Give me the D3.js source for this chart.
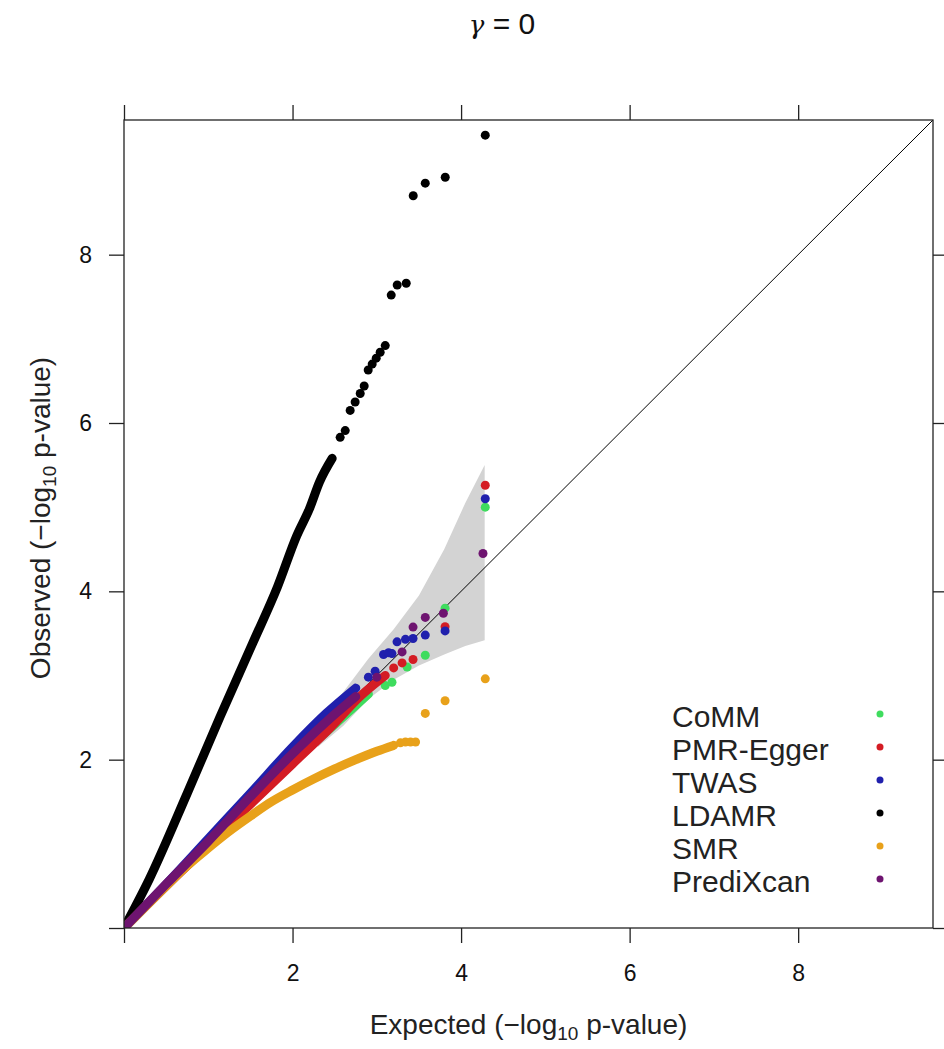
<!DOCTYPE html>
<html>
<head>
<meta charset="utf-8">
<script src="https://cdn.jsdelivr.net/npm/d3@7"></script>
<style>
	body { margin: 0; background: #fff; }
	svg { font-family: 'Liberation Sans', Arial, sans-serif; }
</style>
</head>
<body>
<svg id="chart" width="944" height="1049"></svg>
<script>
// legend / series order
const methods = ['CoMM', 'PMR-Egger', 'TWAS', 'LDAMR', 'SMR', 'PrediXcan'];
const methodColours = ['#3fdc5e', '#d41c24', '#2020ad', '#000000', '#e8a11a', '#6e1470'];

const tickValues = [0, 2, 4, 6, 8];

// dense part of each curve [expected, observed]
const denseCoMM = [[0, 0], [0.5, 0.5], [1, 1], [1.5, 1.48], [2, 1.97], [2.5, 2.42], [2.9, 2.78]];
const densePMR = [[0, 0], [0.5, 0.5], [1, 0.98], [1.5, 1.47], [2, 1.95], [2.45, 2.38], [2.8, 2.75], [3.1, 3.0]];
const denseTWAS = [[0, 0], [0.5, 0.52], [1, 1.06], [1.5, 1.6], [2, 2.15], [2.4, 2.55], [2.75, 2.85]];
const denseLDAMR = [[0, 0], [0.3, 0.58], [0.75, 1.6], [1.14, 2.51], [1.53, 3.39], [1.82, 4.05],
	[2.05, 4.66], [2.2, 4.98], [2.32, 5.3], [2.47, 5.58]];
const denseSMR = [[0, 0], [0.5, 0.5], [0.75, 0.74], [1, 0.95], [1.25, 1.15], [1.5, 1.33], [1.75, 1.5],
	[2, 1.64], [2.25, 1.77], [2.5, 1.89], [2.75, 2.0], [3.0, 2.1], [3.2, 2.17]];
const densePrediXcan = [[0, 0], [0.5, 0.52], [1, 1.03], [1.5, 1.56], [2, 2.07], [2.4, 2.45], [2.75, 2.75]];

// sparse tail points
const tailCoMM = [[3.1, 2.88], [3.18, 2.92], [3.36, 3.1], [3.575, 3.24], [3.81, 3.8], [4.287, 5.0]];
const tailPMR = [[3.2, 3.09], [3.3, 3.15], [3.43, 3.19], [3.81, 3.58], [4.287, 5.26]];
const tailTWAS = [[2.9, 2.98], [2.98, 3.05], [3.08, 3.25], [3.14, 3.27], [3.18, 3.26], [3.24, 3.4],
	[3.34, 3.43], [3.43, 3.44], [3.575, 3.48], [3.81, 3.53], [4.287, 5.1]];
const tailLDAMR = [[2.565, 5.83], [2.625, 5.91], [2.684, 6.15], [2.743, 6.25], [2.803, 6.35], [2.85, 6.44],
	[2.898, 6.63], [2.945, 6.7], [2.993, 6.77], [3.04, 6.84], [3.1, 6.92], [3.171, 7.52], [3.242, 7.64],
	[3.349, 7.66], [3.432, 8.7], [3.575, 8.85], [3.812, 8.92], [4.287, 9.42]];
const tailSMR = [[3.28, 2.2], [3.34, 2.21], [3.4, 2.21], [3.46, 2.21], [3.575, 2.55], [3.81, 2.7], [4.287, 2.96]];
const tailPrediXcan = [[3.0, 2.98], [3.3, 3.28], [3.43, 3.575], [3.575, 3.69], [3.79, 3.74], [4.26, 4.45]];

const denseSets = [denseCoMM, densePMR, denseTWAS, denseLDAMR, denseSMR, densePrediXcan];
const tailSets = [tailCoMM, tailPMR, tailTWAS, tailLDAMR, tailSMR, tailPrediXcan];

// confidence band
const bandX = [2.3, 2.6, 2.9, 3.2, 3.5, 3.8, 4.05, 4.28];
const bandUpper = [2.4, 2.8, 3.2, 3.55, 3.95, 4.5, 5.05, 5.5];
const bandLower = [2.15, 2.4, 2.72, 2.95, 3.12, 3.25, 3.35, 3.42];

const svg = d3.select('#chart');
const panel = { left: 124, right: 933, top: 120, bottom: 928 };
const maxVal = 9.6;

const xScale = d3.scaleLinear().domain([0, maxVal]).range([panel.left, panel.right]);
const yScale = d3.scaleLinear().domain([0, maxVal]).range([panel.bottom, panel.top]);
const colour = d3.scaleOrdinal().domain(methods).range(methodColours);

svg.append('rect').attr('width', 944).attr('height', 1049).attr('fill', '#fff');

svg.append('clipPath')
	.attr('id', 'clip')
	.append('rect')
	.attr('x', panel.left)
	.attr('y', panel.top)
	.attr('width', panel.right - panel.left)
	.attr('height', panel.bottom - panel.top);

const plot = svg.append('g').attr('clip-path', 'url(#clip)');

// grey band
const band = bandX.map((x, i) => ({ x: x, lo: bandLower[i], hi: bandUpper[i] }));
plot.append('path')
	.datum(band)
	.attr('fill', '#d3d3d3')
	.attr('d', d3.area().x(d => xScale(d.x)).y0(d => yScale(d.lo)).y1(d => yScale(d.hi)));

// y = x reference
plot.append('path')
	.datum([[0, 0], [maxVal, maxVal]])
	.attr('fill', 'none')
	.attr('stroke', '#000')
	.attr('stroke-width', 1)
	.attr('d', d3.line().x(d => xScale(d[0])).y(d => yScale(d[1])));

const makeLine = d3.line().x(d => xScale(d[0])).y(d => yScale(d[1])).curve(d3.curveMonotoneX);

methods.forEach((m, i) => {
	plot.append('path')
		.datum(denseSets[i])
		.attr('fill', 'none')
		.attr('stroke', colour(m))
		.attr('stroke-width', 9)
		.attr('stroke-linecap', 'round')
		.attr('stroke-linejoin', 'round')
		.attr('d', makeLine);

	plot.selectAll('.pt-' + i)
		.data(tailSets[i])
		.enter()
		.append('circle')
		.attr('class', 'pt-' + i)
		.attr('cx', d => xScale(d[0]))
		.attr('cy', d => yScale(d[1]))
		.attr('r', 4.5)
		.attr('fill', colour(m));
});

// axes, ticks on all four sides, labels bottom and left
const fmt = d => (d === 0 ? '' : d);
const xAxis = svg.append('g')
	.attr('transform', `translate(0,${panel.bottom})`)
	.call(d3.axisBottom(xScale).tickValues(tickValues).tickSize(15).tickSizeOuter(0).tickPadding(22).tickFormat(fmt));
const yAxis = svg.append('g')
	.attr('transform', `translate(${panel.left},0)`)
	.call(d3.axisLeft(yScale).tickValues(tickValues).tickSize(15).tickSizeOuter(0).tickPadding(17).tickFormat(fmt));
const topAxis = svg.append('g')
	.attr('transform', `translate(0,${panel.top})`)
	.call(d3.axisTop(xScale).tickValues(tickValues).tickSize(15).tickSizeOuter(0).tickFormat(''));
const rightAxis = svg.append('g')
	.attr('transform', `translate(${panel.right},0)`)
	.call(d3.axisRight(yScale).tickValues(tickValues).tickSize(15).tickSizeOuter(0).tickFormat(''));

[xAxis, yAxis, topAxis, rightAxis].forEach(a => {
	a.select('.domain').remove();
	a.selectAll('line').attr('stroke', '#222').attr('stroke-width', 1.3);
	a.selectAll('text').attr('font-size', 23).attr('font-family', "'Liberation Sans', Arial, sans-serif").attr('fill', '#111');
});

svg.append('rect')
	.attr('x', panel.left)
	.attr('y', panel.top)
	.attr('width', panel.right - panel.left)
	.attr('height', panel.bottom - panel.top)
	.attr('fill', 'none')
	.attr('stroke', '#222')
	.attr('stroke-width', 1.3);

// title and axis titles
const title = svg.append('text')
	.attr('x', 502)
	.attr('y', 34)
	.attr('text-anchor', 'middle')
	.attr('fill', '#111');
title.append('tspan').attr('font-family', "'DejaVu Serif', serif").attr('font-style', 'italic').attr('font-size', 26).text('γ');
title.append('tspan').attr('font-size', 30).text(' = 0');

const xTitle = svg.append('text')
	.attr('x', (panel.left + panel.right) / 2)
	.attr('y', 1034)
	.attr('text-anchor', 'middle')
	.attr('font-size', 28)
	.attr('fill', '#222');
xTitle.append('tspan').text('Expected (−log');
xTitle.append('tspan').attr('font-size', 19).attr('dy', 6).text('10');
xTitle.append('tspan').attr('dy', -6).text(' p-value)');

const yTitle = svg.append('text')
	.attr('transform', `translate(50,${(panel.top + panel.bottom) / 2 - 6}) rotate(-90)`)
	.attr('text-anchor', 'middle')
	.attr('font-size', 28)
	.attr('fill', '#222');
yTitle.append('tspan').text('Observed (−log');
yTitle.append('tspan').attr('font-size', 19).attr('dy', 6).text('10');
yTitle.append('tspan').attr('dy', -6).text(' p-value)');

// legend
const legendY = d3.scalePoint().domain(methods).range([727, 892]);
const legend = svg.append('g');
legend.selectAll('text')
	.data(methods)
	.enter()
	.append('text')
	.attr('x', 672)
	.attr('y', d => legendY(d))
	.attr('font-size', 30)
	.attr('fill', '#222')
	.text(d => d);
legend.selectAll('circle')
	.data(methods)
	.enter()
	.append('circle')
	.attr('cx', 880)
	.attr('cy', d => legendY(d) - 13)
	.attr('r', 3.5)
	.attr('fill', d => colour(d));
</script>
</body>
</html>
